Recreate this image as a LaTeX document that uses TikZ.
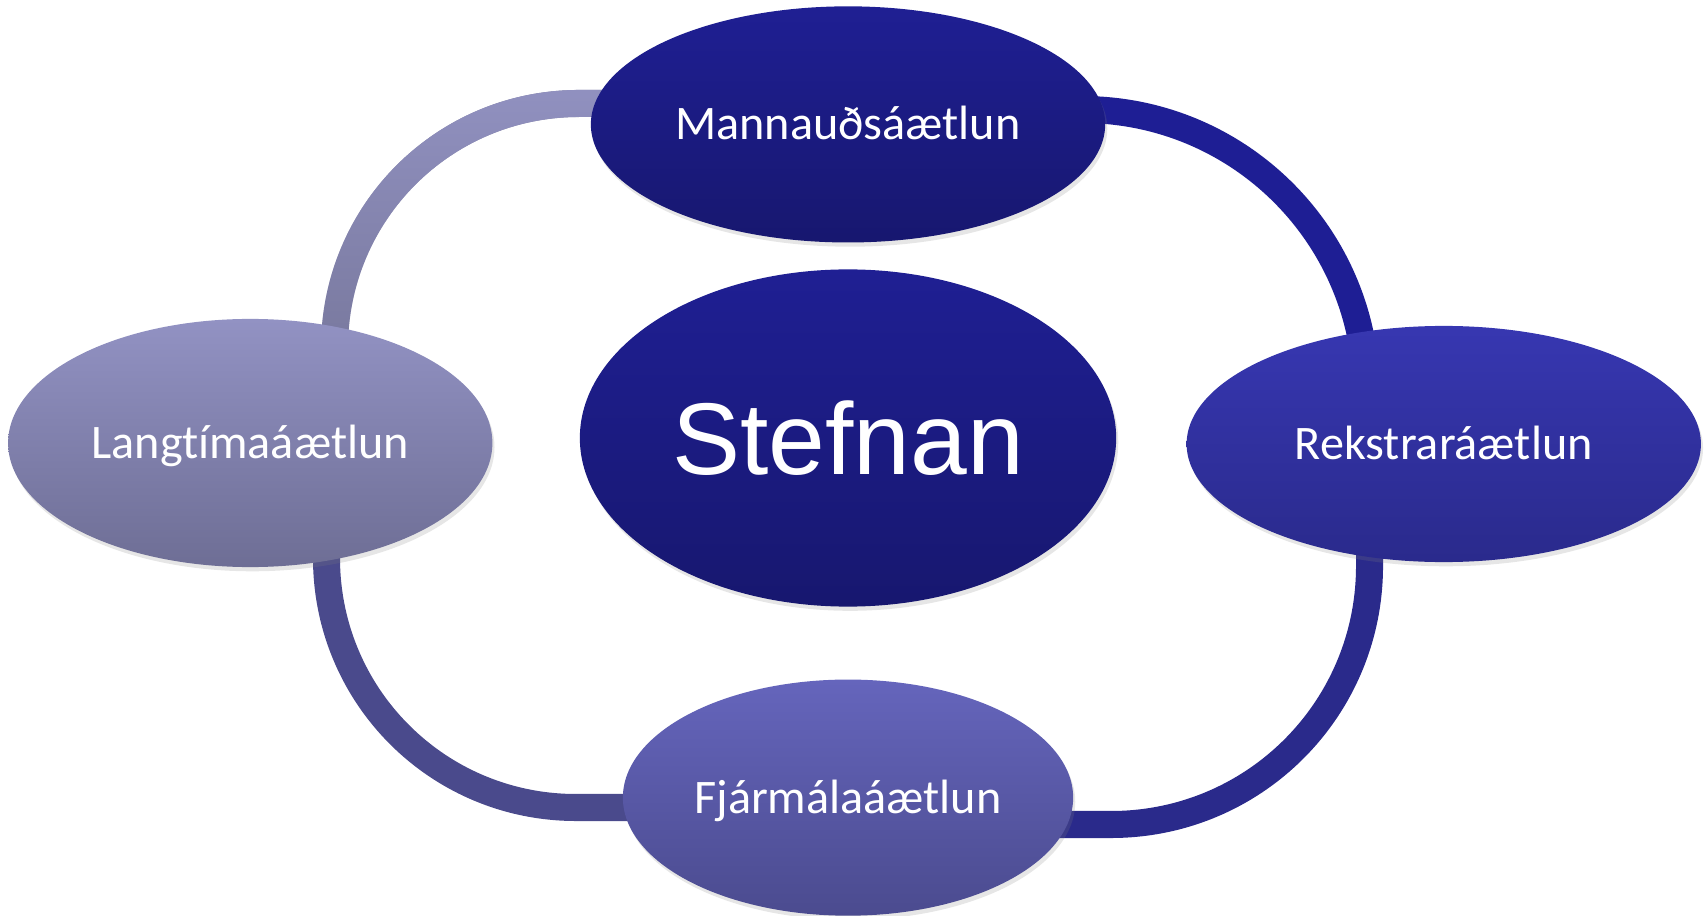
\documentclass[tikz,border=0pt]{standalone}
\usepackage{fontspec}
\setmainfont{Carlito}[Ligatures=NoCommon]
\newfontfamily\hubfont{Liberation Sans}
\usetikzlibrary{shapes,positioning,shadows,fadings,backgrounds}

\definecolor{navyTop}{HTML}{1F1F93}
\definecolor{navyBot}{HTML}{17176F}
\definecolor{lilacTop}{HTML}{9292C3}
\definecolor{lilacBot}{HTML}{6E6E95}
\definecolor{royalTop}{HTML}{3737B1}
\definecolor{royalBot}{HTML}{2A2A8C}
\definecolor{violetTop}{HTML}{6565BC}
\definecolor{violetBot}{HTML}{4B4B8F}
\definecolor{ringTLtop}{HTML}{9191C0}
\definecolor{ringTLbot}{HTML}{76769A}
\definecolor{ringTR}{HTML}{1E1E94}
\definecolor{ringBR}{HTML}{2A2A8B}
\definecolor{ringBL}{HTML}{4A4A8C}

\tikzfading[name=fadeTop, top color=transparent!0, bottom color=transparent!100]

\begin{document}
\begin{tikzpicture}[
    x=0.01cm, y=0.01cm,
    plan/.style={ellipse, inner sep=0pt, text=white, font=\fontsize{13.7}{16}\selectfont,
        text height=9.5pt, text depth=0.7pt,
        drop shadow={opacity=0.2, shadow xshift=0.6pt, shadow yshift=-1.2pt}},
    hub/.style={ellipse, inner sep=0pt, text=white, font=\hubfont\fontsize{29}{35}\selectfont,
        drop shadow={opacity=0.2, shadow xshift=0.6pt, shadow yshift=-1.2pt}},
    ring/.style={line width=0.27cm,
        preaction={draw=black, opacity=0.15, transform canvas={shift={(0.6pt,-1.2pt)}}}}
]
\useasboundingbox (0,0) rectangle (1707,915);

\node[hub, minimum width=5.36cm, minimum height=3.37cm, top color=navyTop, bottom color=navyBot] (stefnan) at (848,477) {Stefnan};
\node[plan, minimum width=5.14cm, minimum height=2.36cm, top color=navyTop, bottom color=navyBot, above=0.255cm of stefnan] (mannaud) {Mannauðsáætlun};
\node[plan, minimum width=4.84cm, minimum height=2.48cm, top color=lilacTop, bottom color=lilacBot, left=0.86cm of stefnan, yshift=-0.05cm] (langtima) {Langtímaáætlun};
\node[plan, minimum width=5.14cm, minimum height=2.36cm, top color=royalTop, bottom color=royalBot, right=0.69cm of stefnan, yshift=-0.06cm] (rekstrar) {Rekstraráætlun};
\node[plan, minimum width=4.50cm, minimum height=2.36cm, top color=violetTop, bottom color=violetBot, below=0.715cm of stefnan] (fjarmala) {Fjármálaáætlun};

% ring between the plans
\begin{scope}[on background layer]
\coordinate (tlA) at (640,811.5);
\coordinate (tlB) at (579,811.5);
\coordinate (tlC) at (334.5,567);
\coordinate (tlD) at (334.5,540);
\coordinate (trA) at (1040,805.5);
\coordinate (trB) at (1082,805.5);
\coordinate (trC) at (1366.5,521);
\coordinate (trD) at (1366.5,480);
\coordinate (brA) at (1369.5,390);
\coordinate (brB) at (1369.5,349);
\coordinate (brC) at (1111,90.5);
\coordinate (brD) at (1040,90.5);
\coordinate (blA) at (326.5,390);
\coordinate (blB) at (326.5,357);
\coordinate (blC) at (576,107.5);
\coordinate (blD) at (650,107.5);

\draw[ring, draw=ringTLbot] (tlA) -- (tlB) to[out=180,in=90] (tlC) -- (tlD);
\draw[line width=0.27cm, draw=ringTLtop, path fading=fadeTop] (tlA) -- (tlB) to[out=180,in=90] (tlC) -- (tlD);
\draw[ring, draw=ringTR] (trA) -- (trB) to[out=0,in=90] (trC) -- (trD);
\draw[ring, draw=ringBR] (brA) -- (brB) to[out=-90,in=0] (brC) -- (brD);
\draw[ring, draw=ringBL] (blA) -- (blB) to[out=-90,in=180] (blC) -- (blD);
\end{scope}
\end{tikzpicture}
\end{document}
